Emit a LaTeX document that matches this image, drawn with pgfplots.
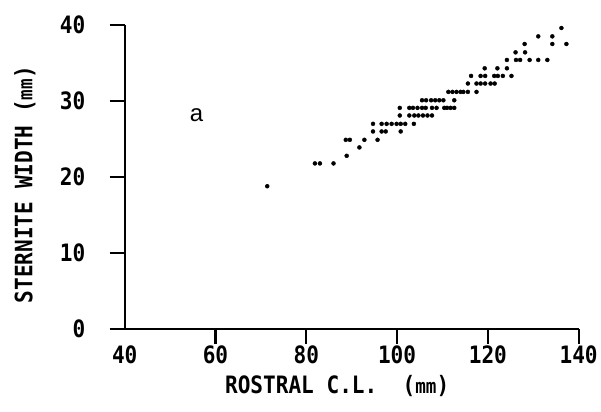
\documentclass[border=0pt]{standalone}
\usepackage{fontspec}
\setmainfont{DejaVu Sans Mono}[FakeStretch=0.88]
\newfontfamily\afont{Liberation Sans}
\usepackage{pgfplots}
\pgfplotsset{compat=1.18}
\begin{document}
\begin{tikzpicture}
\begin{axis}[
  scale only axis, width=455pt, height=305pt,
  xmin=40, xmax=140, ymin=0, ymax=40,
  axis x line*=bottom, axis y line*=left,
  axis line style={line width=2.2pt, -},
  xtick={60,80,...,140}, extra x ticks={40}, extra x tick style={xtick style={draw=none}},
  ytick={0,10,...,40},
  tick align=outside, major tick length=15pt,
  every tick/.style={line width=2.2pt, black, draw=black},
  /pgf/number format/assume math mode=true,
  tick label style={font=\bfseries\fontsize{24}{24}\selectfont},
  xticklabel style={anchor=center, yshift=-11pt},
  yticklabel style={anchor=east, xshift=-21pt},
  xlabel={ROSTRAL C.L.~~(\fontsize{20}{20}\selectfont mm\fontsize{24}{24}\selectfont)},
  ylabel={STERNITE WIDTH (\fontsize{20}{20}\selectfont mm\fontsize{24}{24}\selectfont)},
  label style={font=\bfseries\fontsize{24}{24}\selectfont},
  xlabel style={at={(axis description cs:0.468,-0.187)}, anchor=center},
  ylabel style={at={(axis description cs:-0.22,0.475)}, anchor=center},
  clip=false,
]
\path (axis description cs:-0.2747,-0.2689) rectangle (axis description cs:1.0462,1.082);
\addplot[only marks, mark=*, mark size=2pt, black] coordinates {
(71.4,18.8)
(81.9,21.8)(83.0,21.8)(86.0,21.8)
(88.9,22.8)
(91.7,23.9)
(88.7,24.9)(89.6,24.9)(92.8,24.9)(95.7,24.9)
(94.7,26.0)(96.6,26.0)(97.5,26.0)(100.8,26.0)
(94.7,27.0)(96.6,27.0)(97.7,27.0)(98.8,27.0)(99.9,27.0)(100.8,27.0)(101.8,27.0)(103.7,27.0)
(100.6,28.1)(102.7,28.1)(103.8,28.1)(104.7,28.1)(105.7,28.1)(106.7,28.1)(107.7,28.1)
(100.6,29.1)(102.7,29.1)(103.5,29.1)(104.5,29.1)(105.5,29.1)(106.3,29.1)(107.7,29.1)(108.7,29.1)(110.4,29.1)(111.0,29.1)(111.8,29.1)(112.6,29.1)
(105.5,30.1)(106.4,30.1)(107.5,30.1)(108.4,30.1)(109.3,30.1)(110.2,30.1)(112.6,30.1)
(111.3,31.2)(112.2,31.2)(113.1,31.2)(114.0,31.2)(114.6,31.2)(115.6,31.2)(117.5,31.2)
(115.6,32.3)(117.5,32.3)(118.4,32.3)(119.4,32.3)(120.6,32.3)(121.5,32.3)
(116.3,33.3)(118.4,33.3)(119.4,33.3)(121.4,33.3)(122.2,33.3)(123.3,33.3)(125.2,33.3)
(119.3,34.3)(122.1,34.3)(124.2,34.3)
(124.2,35.4)(126.2,35.4)(127.1,35.4)(129.2,35.4)(131.1,35.4)(133.1,35.4)
(126.1,36.4)(128.2,36.4)
(128.1,37.5)(134.2,37.5)(137.3,37.5)
(131.1,38.5)(134.2,38.5)
(136.2,39.6)
};
\node[font=\afont\fontsize{24}{24}\selectfont] at (axis cs:55.8,28.2) {a};
\end{axis}
\end{tikzpicture}
\end{document}
